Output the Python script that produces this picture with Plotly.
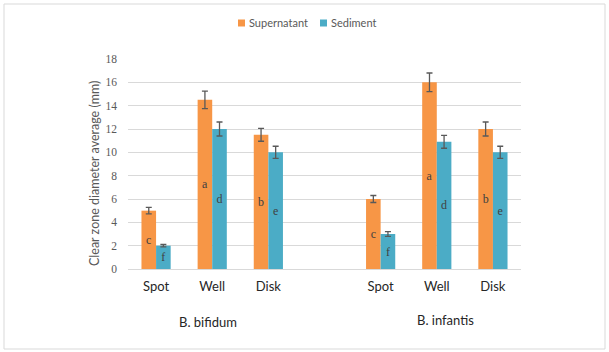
import plotly.graph_objects as go

# Data
x_pos = [0, 1, 2, 4, 5, 6]
methods = ["Spot", "Well", "Disk", "Spot", "Well", "Disk"]
groups = ["B. bifidum", "B. infantis"]
series_names = ["Supernatant", "Sediment"]
supernatant = [5.0, 14.5, 11.5, 6.0, 16.0, 12.0]
supernatant_err = [0.28, 0.75, 0.55, 0.3, 0.8, 0.6]
supernatant_letters = ["c", "a", "b", "c", "a", "b"]
sediment = [2.0, 12.0, 10.0, 3.0, 10.9, 10.0]
sediment_err = [0.1, 0.6, 0.52, 0.2, 0.55, 0.52]
sediment_letters = ["f", "d", "e", "f", "d", "e"]
yticks = [0, 2, 4, 6, 8, 10, 12, 14, 16, 18]
y_title = "Clear zone diameter average (mm)"

ORANGE = "#F79646"
BLUE = "#4BACC6"
ERR = "#595959"

fig = go.Figure()
for name, vals, errs, letters, col in [
    (series_names[0], supernatant, supernatant_err, supernatant_letters, ORANGE),
    (series_names[1], sediment, sediment_err, sediment_letters, BLUE),
]:
    fig.add_trace(go.Bar(
        x=x_pos, y=vals, name=name,
        marker=dict(color=col, line=dict(width=0)),
        error_y=dict(type="data", array=errs, color=ERR, thickness=1.3, width=3),
        text=letters, textposition="inside", insidetextanchor="middle",
        textangle=0, textfont=dict(family="Liberation Serif, serif", size=12, color="#404040"),
    ))

L, R, T, B = 128, 88, 59, 83
W, H = 609, 352
pw, ph = W - L - R, H - T - B

def px_to_paper_x(px):
    return (px - L) / pw

def px_to_paper_y(py):
    return (H - B - py) / ph

fig.update_layout(
    width=W, height=H,
    margin=dict(l=L, r=R, t=T, b=B),
    paper_bgcolor="white", plot_bgcolor="white",
    barmode="group", bargap=0.48, bargroupgap=0,
    font=dict(family="Lato, Open Sans, sans-serif", color="#404040"),
    showlegend=False,
)
fig.update_xaxes(
    range=[-0.5, 6.5], tickmode="array", tickvals=x_pos, ticktext=methods,
    showgrid=False, zeroline=False, showline=False, ticks="",
    tickfont=dict(size=13, color="#262626", family="Lato, Open Sans, sans-serif"),
    ticklabelstandoff=8,
)
fig.update_yaxes(
    range=[0, 18], tickmode="array", tickvals=yticks,
    showgrid=True, gridcolor="#D9D9D9", gridwidth=1,
    zeroline=True, zerolinecolor="#D9D9D9", zerolinewidth=1,
    showline=False, ticks="",
    tickfont=dict(size=11.5, color="#595959", family="Liberation Serif, serif"),
    ticklabelstandoff=10,
)

# y-axis title
fig.add_annotation(x=px_to_paper_x(94), y=px_to_paper_y(174), xref="paper", yref="paper",
                   text=y_title, textangle=-90, showarrow=False,
                   font=dict(size=12.5, color="#595959"), xanchor="center", yanchor="middle")

# group labels
fig.add_annotation(x=0.93, y=px_to_paper_y(322), xref="x", yref="paper",
                   text=groups[0], showarrow=False,
                   font=dict(size=13, color="#262626"), xanchor="center", yanchor="middle")
fig.add_annotation(x=5.16, y=px_to_paper_y(320), xref="x", yref="paper",
                   text=groups[1], showarrow=False,
                   font=dict(size=13, color="#262626"), xanchor="center", yanchor="middle")

# legend (custom, small square swatches)
for name, col, sx in [(series_names[0], ORANGE, 238), (series_names[1], BLUE, 320)]:
    fig.add_shape(type="rect", xref="paper", yref="paper",
                  x0=px_to_paper_x(sx), x1=px_to_paper_x(sx + 7),
                  y0=px_to_paper_y(26.5), y1=px_to_paper_y(19.5),
                  line=dict(width=0), fillcolor=col)
    fig.add_annotation(x=px_to_paper_x(sx + 9), y=px_to_paper_y(23), xref="paper", yref="paper",
                       text=name, showarrow=False, xanchor="left", yanchor="middle",
                       font=dict(size=11, color="#595959"))

# outer border
fig.add_shape(type="rect", xref="paper", yref="paper",
              x0=px_to_paper_x(4), x1=px_to_paper_x(605),
              y0=px_to_paper_y(349), y1=px_to_paper_y(4),
              line=dict(color="#D9D9D9", width=1), fillcolor="rgba(0,0,0,0)", layer="below")

fig.write_html("out.html")
